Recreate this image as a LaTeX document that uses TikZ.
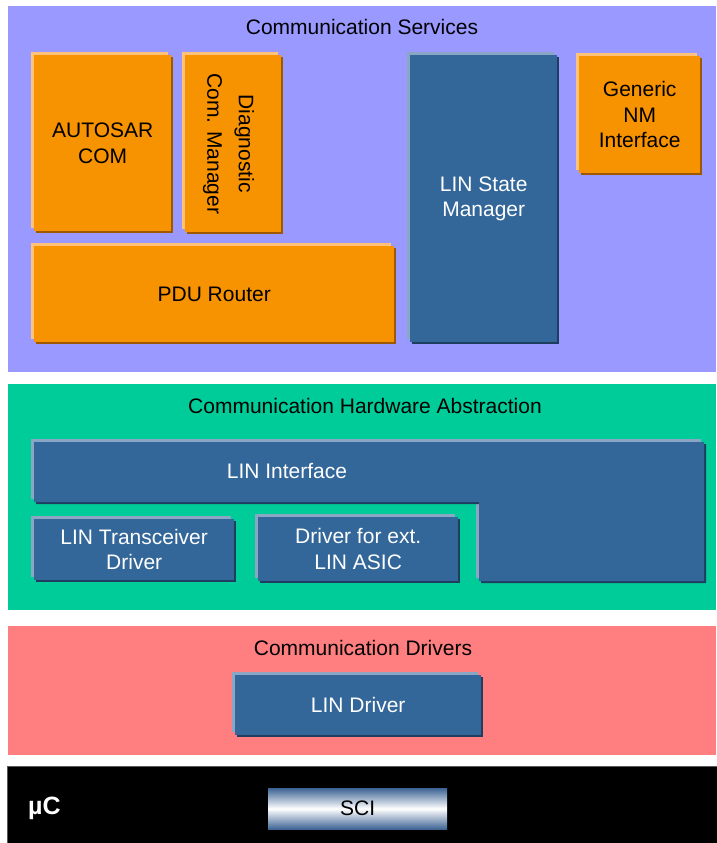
\documentclass[tikz,border=0pt]{standalone}
\usepackage{fontspec}
\setmainfont{Liberation Sans}
\usetikzlibrary{shadows, positioning}
\definecolor{svclayer}{HTML}{9999FF}
\definecolor{hwlayer}{HTML}{00CC99}
\definecolor{drvlayer}{HTML}{FF7F80}
\definecolor{modorange}{HTML}{F79200}
\definecolor{orangelight}{HTML}{FFC27A}
\definecolor{orangedark}{HTML}{9E5800}
\definecolor{modblue}{HTML}{336699}
\definecolor{bluelight}{HTML}{8AA6C4}
\definecolor{bluedark}{HTML}{1F3D5F}
\definecolor{scishade}{HTML}{3D6494}
\tikzset{
  layer/.style  = {fill=#1, draw=none},
  ltitle/.style = {font=\fontsize{21}{25.5}\selectfont, text=black, inner sep=0pt},
  bevel/.style 2 args = {general shadow={shadow xshift=-3pt, shadow yshift=3pt, fill=#1},
                         general shadow={shadow xshift=2pt, shadow yshift=-2pt, fill=#2}},
  omod/.style   = {bevel={orangelight}{orangedark}, fill=modorange, anchor=north west,
                   inner sep=0pt, align=center, text=black,
                   font=\fontsize{21}{25.5}\selectfont},
  bmod/.style   = {bevel={bluelight}{bluedark}, fill=modblue, anchor=north west,
                   inner sep=0pt, align=center, text=white,
                   font=\fontsize{21}{25.5}\selectfont},
}
\begin{document}
\begin{tikzpicture}[x=1pt, y=-1pt]
  \useasboundingbox (0,0) rectangle (716,843);
  % layers
  \fill[layer=svclayer] (8,6) rectangle (716,372);
  \fill[layer=hwlayer] (8,384) rectangle (716,610);
  \fill[layer=drvlayer] (8,626) rectangle (716,755);
  \filldraw[fill=black, draw=black!65, line width=1pt] (7.5,766.5) rectangle (717,844);
  \node[ltitle] (svc) at (362,27) {Communication Services};
  \node[ltitle] (hwa) at (365,406) {Communication Hardware Abstraction};
  \node[ltitle] (drv) at (363,648) {Communication Drivers};
  % communication services
  \node[omod, minimum width=137pt, minimum height=176pt] (acom) at (34,55) {AUTOSAR\\COM};
  \node[omod, minimum width=96pt, minimum height=177pt] (dcm) at (185,55)
    {\hspace*{-10pt}\rotatebox{-90}{\begin{tabular}{@{}c@{}}Diagnostic\\[6pt]Com. Manager\end{tabular}}};
  \node[omod, minimum width=360pt, minimum height=96pt] (pdur) at (34,246) {PDU Router};
  \node[bmod, minimum width=147pt, minimum height=287pt] (lsm) at (410,55) {LIN State\\Manager};
  \node[omod, minimum width=121pt, minimum height=117pt] (gnm) at (579,56) {Generic\\NM\\Interface};
  % hardware abstraction
  \fill[bevel={bluelight}{bluedark}, fill=modblue]
    (34,442) -- (704,442) -- (704,581) -- (479,581) -- (479,502) -- (34,502) -- cycle;
  \node[ltitle, text=white] (lif) at (287,471) {LIN Interface};
  \node[bmod, minimum width=200pt, minimum height=61pt] (ltd) at (34,519) {LIN Transceiver\\Driver};
  \node[bmod, minimum width=200pt, minimum height=64pt] (dea) at (258,517) {Driver for ext.\\LIN ASIC};
  % drivers and microcontroller
  \node[bmod, minimum width=246pt, minimum height=60pt] (ldrv) at (235,675) {LIN Driver};
  \node[anchor=north west, minimum width=179pt, minimum height=41pt, inner sep=0pt,
        top color=scishade, bottom color=scishade, middle color=white,
        font=\fontsize{21}{25}\selectfont] (sci) at (268,788) {SCI};
  \node[anchor=west, text=white, inner sep=0pt, font=\fontsize{25}{30}\selectfont\bfseries]
    (mcu) at (28,808) {µC};
\end{tikzpicture}
\end{document}
